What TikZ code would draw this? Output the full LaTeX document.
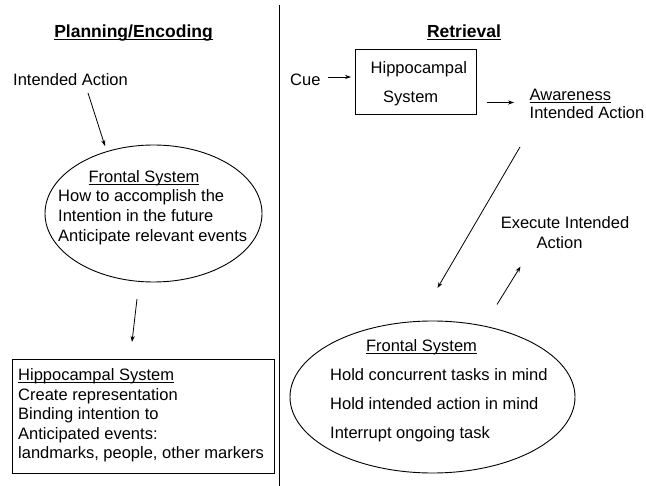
\documentclass[tikz,border=0pt]{standalone}
\usepackage{fontspec}
\setmainfont{Liberation Sans}
\usetikzlibrary{shapes.geometric,arrows.meta}
% underline drawn at a fixed depth below the baseline
\newcommand\ulfix[2][0.8pt]{\setbox0\hbox{#2}\rlap{\rule[-2.2pt]{\wd0}{#1}}\box0}
\begin{document}
\begin{tikzpicture}[x=1pt,y=-1pt,
  txt/.style={inner sep=0pt,font=\fontsize{16.5}{20}\selectfont},
  ttl/.style={inner sep=0pt,font=\fontsize{17.5}{21}\selectfont\bfseries},
  con/.style={line width=0.8pt,-{Stealth[length=6pt,width=4.2pt]}},
  outline/.style={draw,line width=0.9pt}]
\useasboundingbox (0,0) rectangle (646,486);

% divider between the two phases
\coordinate (divtop) at (279,5);
\coordinate (divbot) at (279,486);
\draw[line width=1pt] (divtop) -- (divbot);

% headings
\node[ttl,anchor=base] (plan) at (133.5,38) {\ulfix[1.2pt]{Planning/Encoding}};
\node[ttl,anchor=base] (retr) at (464,38) {\ulfix[1.2pt]{Retrieval}};

% ---- planning / encoding ----
\node[txt,anchor=base west] (ia) at (13,86) {Intended Action};

\node[outline,ellipse,minimum width=217pt,minimum height=137pt,inner sep=0pt] (fe) at (153.5,213.5) {};
\node[txt,anchor=base] (fet) at (144,183) {\ulfix{Frontal System}};
\node[txt,anchor=base west] (fe1) at (58,202) {How to accomplish the};
\node[txt,anchor=base west] (fe2) at (58,222) {Intention in the future};
\node[txt,anchor=base west] (fe3) at (58,242) {Anticipate relevant events};

\node[outline,minimum width=262pt,minimum height=114pt,inner sep=0pt] (hb) at (143,416) {};
\node[txt,anchor=base west] (hb0) at (18,381) {\ulfix{Hippocampal System}};
\node[txt,anchor=base west] (hb1) at (18,401) {Create representation};
\node[txt,anchor=base west] (hb2) at (18,420) {Binding intention to};
\node[txt,anchor=base west] (hb3) at (18,439.5) {Anticipated events:};
\node[txt,anchor=base west] (hb4) at (18,459) {landmarks, people, other markers};

\coordinate (a1s) at (88,93);
\coordinate (a1e) at (105,146);
\draw[con] (a1s) -- (a1e);
\coordinate (a2s) at (137,299);
\coordinate (a2e) at (132,342);
\draw[con] (a2s) -- (a2e);

% ---- retrieval ----
\node[txt,anchor=base west] (cue) at (290,86) {Cue};
\node[outline,minimum width=121pt,minimum height=65pt,inner sep=0pt] (hs) at (415.5,81.5) {};
\node[txt,anchor=base west] (hs1) at (370.5,73.5) {Hippocampal};
\node[txt,anchor=base west] (hs2) at (383,103) {System};

\node[txt,anchor=base west] (aw1) at (529.5,100.5) {\ulfix{Awareness}};
\node[txt,anchor=base west] (aw2) at (529.5,119) {Intended Action};

\node[txt,anchor=base] (ex1) at (565,229) {Execute Intended};
\node[txt,anchor=base] (ex2) at (559.5,249) {Action};

\node[outline,ellipse,minimum width=285pt,minimum height=152pt,inner sep=0pt] (fr) at (432.5,397) {};
\node[txt,anchor=base] (frt) at (421.5,352) {\ulfix{Frontal System}};
\node[txt,anchor=base west] (fr1) at (330,381) {Hold concurrent tasks in mind};
\node[txt,anchor=base west] (fr2) at (330,410) {Hold intended action in mind};
\node[txt,anchor=base west] (fr3) at (330,439) {Interrupt ongoing task};

\coordinate (a3s) at (328,77);
\coordinate (a3e) at (351,77);
\draw[con] (a3s) -- (a3e);
\coordinate (a4s) at (486.5,102.5);
\coordinate (a4e) at (514,102.5);
\draw[con] (a4s) -- (a4e);
\coordinate (a5s) at (520,147);
\coordinate (a5e) at (437.5,288);
\draw[con] (a5s) -- (a5e);
\coordinate (a6s) at (497,304.5);
\coordinate (a6e) at (520.5,266.5);
\draw[con] (a6s) -- (a6e);
\end{tikzpicture}
\end{document}
